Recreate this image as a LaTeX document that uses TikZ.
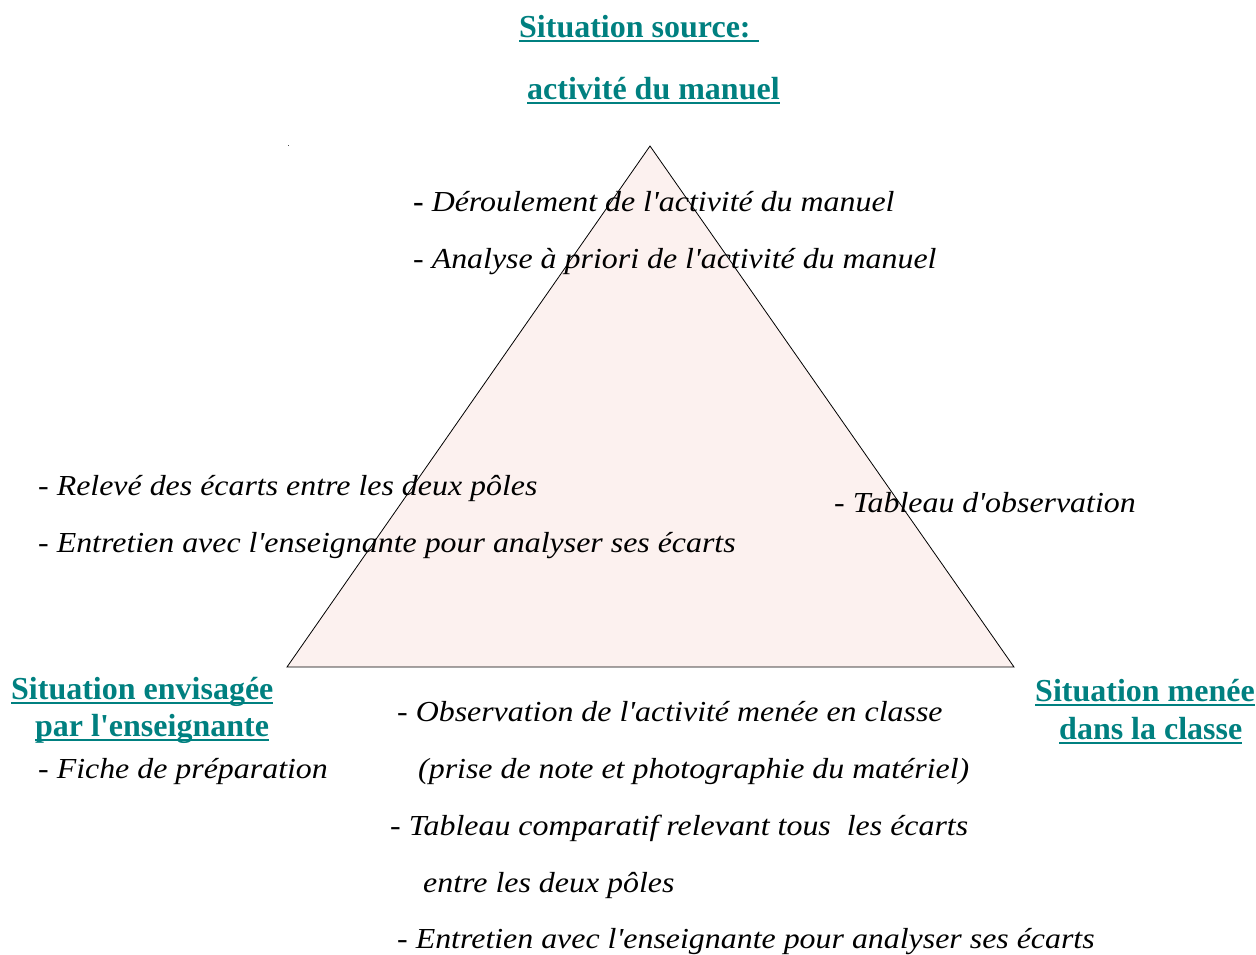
\documentclass[tikz,border=0pt]{standalone}
\usepackage{fontspec}
\setmainfont{Liberation Serif}
\newfontfamily\bodyfont{Liberation Serif}[FakeStretch=1.1]
\newfontfamily\titlefont{Liberation Serif}
\definecolor{tealt}{RGB}{0,128,128}
\definecolor{trifill}{RGB}{252,241,239}
\newcommand\ap{\char"0027\relax}
\newcommand\myul[1]{\setbox0\hbox{#1}\rlap{\color{tealt}\rule[-4.5pt]{\wd0}{1.8pt}}\box0}
\begin{document}
\begin{tikzpicture}[x=1pt,y=-1pt,
  body/.style={anchor=base west,inner sep=0pt,font=\bodyfont\fontsize{29}{29}\selectfont\itshape},
  title/.style={anchor=base west,inner sep=0pt,text=tealt,font=\titlefont\fontsize{32}{32}\selectfont\bfseries}]
\useasboundingbox (0,0) rectangle (1256,954);
\coordinate (A) at (650,146);
\coordinate (B) at (287,667);
\coordinate (C) at (1014,667);
\draw[fill=trifill,line width=0.8pt,line join=miter] (A) -- (B) -- (C) -- cycle;
\fill[black!70] (287.5,144.5) rectangle (288.5,145.5);
% titles
\node[title] (t1) at (519,37) {\myul{Situation source:\ }};
\node[title] (t2) at (527,99) {\myul{activité du manuel}};
\node[title] (t3) at (11,699) {\myul{Situation envisagée}};
\node[title] (t4) at (35,736) {\myul{par l\ap enseignante}};
\node[title] (t5) at (1035,701) {\myul{Situation menée}};
\node[title] (t6) at (1059,739) {\myul{dans la classe}};
% body texts
\node[body] (b1) at (413,211) {{\upshape\bfseries -} Déroulement de l\ap activité du manuel};
\node[body] (b2) at (413,268) {- Analyse à priori de l\ap activité du manuel};
\node[body] (b3) at (38,495) {- Relevé des écarts entre les deux pôles};
\node[body] (b4) at (38,552) {- Entretien avec l\ap enseignante pour analyser ses écarts};
\node[body] (b5) at (834,512) {- Tableau d\ap observation};
\node[body] (b6) at (397,721) {- Observation de l\ap activité menée en classe};
\node[body] (b7) at (418,778) {(prise de note et photographie du matériel)};
\node[body] (b8) at (390,835) {- Tableau comparatif relevant tous\ \ les écarts};
\node[body] (b9) at (423,892) {entre les deux pôles};
\node[body] (b10) at (397,948) {- Entretien avec l\ap enseignante pour analyser ses écarts};
\node[body] (b11) at (38,778) {- Fiche de préparation};
\end{tikzpicture}
\end{document}
